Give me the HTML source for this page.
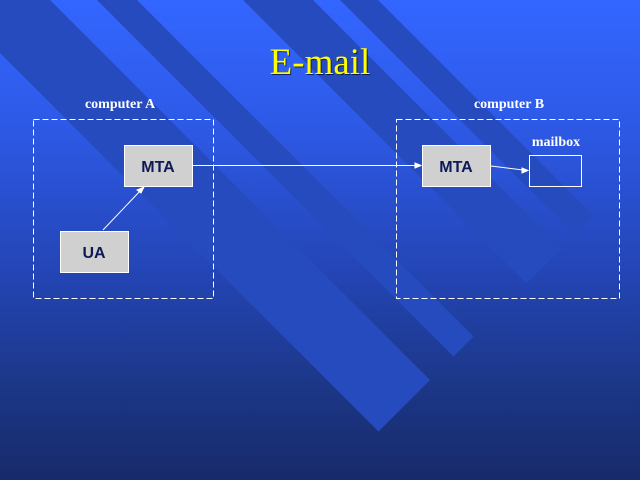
<!DOCTYPE html>
<html><head><style>
html,body{margin:0;padding:0}
body{width:640px;height:480px;overflow:hidden;position:relative;background:linear-gradient(#3366ff 0%,#2e5ae8 25%,#2446b8 55%,#1c3788 80%,#172a6a 100%)}
svg{position:absolute;left:0;top:0}
</style></head><body>
<svg width="640" height="480" viewBox="0 0 640 480">
<g fill="#264bbf">
<polygon points="0,0 50,0 430,380 378.5,431.5 0,53"/>
<polygon points="97,0 137,0 473.5,336.5 453.5,356.5"/>
<polygon points="243,0 313,0 561.5,248.5 526.5,283.5"/>
<polygon points="340,0 378,0 594,216 575,235"/>
</g>
<text x="321" y="75" text-anchor="middle" font-family="Liberation Serif, serif" font-size="37" fill="#000" opacity="0.6">E-mail</text>
<text x="320" y="74" text-anchor="middle" font-family="Liberation Serif, serif" font-size="37" fill="#ffff00">E-mail</text>
<g font-family="Liberation Serif, serif" font-weight="bold" font-size="14" fill="#fff">
<text x="120" y="108" text-anchor="middle">computer A</text>
<text x="509" y="108" text-anchor="middle">computer B</text>
<text x="556" y="146" text-anchor="middle">mailbox</text>
</g>
<g fill="none" stroke="#fff" stroke-width="1" stroke-dasharray="6,3">
<rect x="33.5" y="119.5" width="180" height="179"/>
<rect x="396.5" y="119.5" width="223" height="179"/>
</g>
<g fill="#d0d0d0" stroke="#fff" stroke-width="1">
<rect x="124.5" y="145.5" width="68" height="41"/>
<rect x="60.5" y="231.5" width="68" height="41"/>
<rect x="422.5" y="145.5" width="68" height="41"/>
</g>
<rect x="529.5" y="155.5" width="52" height="31" fill="none" stroke="#fff"/>
<g font-family="Liberation Sans, sans-serif" font-weight="bold" font-size="16" fill="#0d1a55" text-anchor="middle">
<text x="158" y="172">MTA</text>
<text x="94" y="258">UA</text>
<text x="456" y="172">MTA</text>
</g>
<g stroke="#fff" stroke-width="1" fill="#fff">
<line x1="193" y1="165.5" x2="416" y2="165.5"/>
<polygon points="421,165.5 415,163 415,168"/>
<line x1="103" y1="230" x2="141" y2="190"/>
<polygon points="144,187 137,190 141,193"/>
<line x1="491" y1="166" x2="523" y2="170"/>
<polygon points="528,170.5 522,168 522,173"/>
</g>
</svg>
</body></html>
